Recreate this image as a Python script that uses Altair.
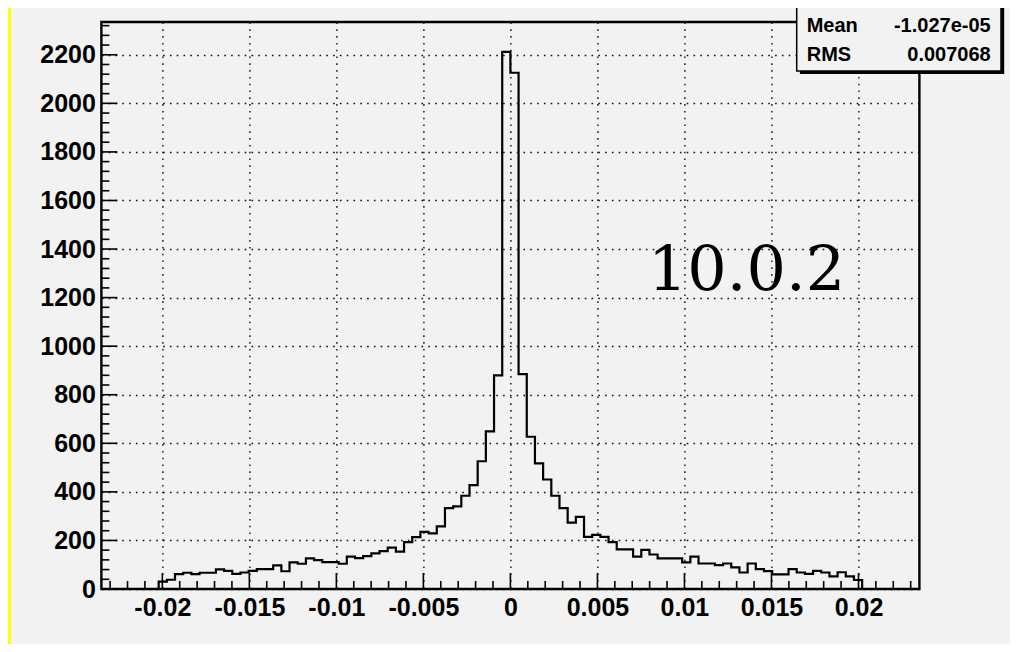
import altair as alt
import pandas as pd

# ROOT-style TH1 booking: 100 bins from -0.0235 to 0.0235
N_BINS = 100
X_MIN = -0.0235
X_MAX = 0.0235
Y_MAX = 2335
FIRST_FILLED_BIN = 7

# bin contents, bins 7 .. 92 (all other bins are empty)
COUNTS = [
    30, 38, 61, 67, 61, 67, 67, 81, 75, 62,
    68, 75, 82, 82, 97, 73, 110, 104, 126, 119,
    111, 111, 104, 133, 127, 135, 147, 156, 170, 154,
    193, 214, 235, 229, 258, 333, 340, 384, 428, 526,
    649, 880, 2212, 2126, 885, 627, 517, 451, 384, 333,
    273, 297, 215, 223, 215, 193, 163, 163, 133, 161,
    142, 126, 126, 126, 110, 133, 105, 105, 98, 105,
    89, 68, 105, 82, 74, 60, 60, 82, 68, 62,
    75, 68, 52, 69, 52, 37,
]

X_MAJOR = [-0.02, -0.015, -0.01, -0.005, 0, 0.005, 0.01, 0.015, 0.02]
X_MINOR = [round(k * 0.001, 3) for k in range(-23, 24) if k % 5 != 0]
Y_MAJOR = [0, 200, 400, 600, 800, 1000, 1200, 1400, 1600, 1800, 2000, 2200]
Y_MINOR = [v for v in range(0, 2335, 40) if v % 200 != 0]

STATS_LABELS = ["Entries", "Mean", "RMS"]
STATS_VALUES = ["19400", "-1.027e-05", "0.007068"]
VERSION_TEXT = "10.0.2"

# ---- build step table from the arrays ----
bw = (X_MAX - X_MIN) / N_BINS
full = [0] * N_BINS
for i, c in enumerate(COUNTS):
    full[FIRST_FILLED_BIN + i] = c
hist_df = pd.DataFrame({
    "x": [X_MIN + i * bw for i in range(N_BINS)] + [X_MAX],
    "y": full + [0],
})

W, H = 818, 567
BG = "#f2f2f2"
PAD = {"left": 93.4, "top": 14, "right": 90.6, "bottom": 55}
LABEL_FONT = "Liberation Sans"

xscale = alt.Scale(domain=[X_MIN, X_MAX], nice=False, zero=False)
yscale = alt.Scale(domain=[0, Y_MAX], nice=False, zero=False)

axis_common = dict(
    grid=True, gridDash=[1.6, 5.2], gridColor="#111111", gridWidth=1.4,
    ticks=False, tickSize=0, domain=False, title=None,
    labelFont=LABEL_FONT, labelFontWeight="bold", labelFontSize=25,
    labelColor="black", labelPadding=6, labelOverlap=False, labelFlush=False,
    labelExpr="'' + datum.value",
)

hist = alt.Chart(hist_df).mark_line(
    interpolate="step-after", color="black", strokeWidth=2.2
).encode(
    x=alt.X("x:Q", scale=xscale, axis=alt.Axis(values=X_MAJOR, **axis_common)),
    y=alt.Y("y:Q", scale=yscale, axis=alt.Axis(values=Y_MAJOR, **axis_common)),
)

def xticks(vals, length):
    return alt.Chart(pd.DataFrame({"x": vals})).mark_rule(
        color="black", strokeWidth=1.6
    ).encode(
        x=alt.X("x:Q", scale=xscale, title=None),
        y=alt.value(H), y2=alt.value(H - length),
    )

def yticks(vals, length):
    return alt.Chart(pd.DataFrame({"y": vals})).mark_rule(
        color="black", strokeWidth=1.6
    ).encode(
        y=alt.Y("y:Q", scale=yscale, title=None),
        x=alt.value(0), x2=alt.value(length),
    )

version = alt.Chart(pd.DataFrame({"d": [0]})).mark_text(
    font="DejaVu Serif", fontSize=62, align="left", baseline="alphabetic",
    color="black"
).encode(
    x=alt.datum(0.0079, type="quantitative"),
    y=alt.datum(1231, type="quantitative"),
    text=alt.value(VERSION_TEXT),
)

dummy = pd.DataFrame({"d": [0]})
yellow = alt.Chart(dummy).mark_rect(color="#ffff00").encode(
    x=alt.value(-PAD["left"]), x2=alt.value(-PAD["left"] + 3),
    y=alt.value(-PAD["top"]), y2=alt.value(H + PAD["bottom"]),
)
shadow = alt.Chart(dummy).mark_rect(color="black").encode(
    x=alt.value(698.5), x2=alt.value(902.8),
    y=alt.value(-27), y2=alt.value(52),
)
box = alt.Chart(dummy).mark_rect(fill=BG, stroke="black", strokeWidth=1.5).encode(
    x=alt.value(695.3), x2=alt.value(899.6),
    y=alt.value(-30), y2=alt.value(49),
)
stats_layers = []
for i, (lab, val) in enumerate(zip(STATS_LABELS, STATS_VALUES)):
    base_y = -18.4 + i * 28.7
    stats_layers.append(alt.Chart(dummy).mark_text(
        font=LABEL_FONT, fontWeight="bold", fontSize=20, align="left",
        baseline="alphabetic", color="black"
    ).encode(x=alt.value(705.3), y=alt.value(base_y), text=alt.value(lab)))
    stats_layers.append(alt.Chart(dummy).mark_text(
        font=LABEL_FONT, fontWeight="bold", fontSize=20, align="right",
        baseline="alphabetic", color="black"
    ).encode(x=alt.value(889.3), y=alt.value(base_y), text=alt.value(val)))

chart = alt.layer(
    hist,
    xticks(X_MAJOR, 16), xticks(X_MINOR, 8),
    yticks(Y_MAJOR, 16), yticks(Y_MINOR, 8),
    version, yellow, shadow, box, *stats_layers,
).properties(
    width=W, height=H, padding=PAD,
    autosize=alt.AutoSizeParams(type="none"),
    background=BG,
).configure_view(stroke="black", strokeWidth=2.4)

chart.save("out.html", embed_options={"renderer": "svg", "actions": False})
